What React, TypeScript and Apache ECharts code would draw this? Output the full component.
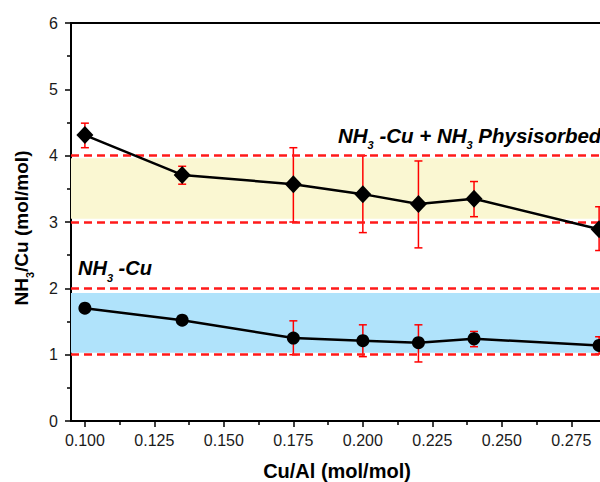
import React, { useEffect, useRef } from "react";
import * as echarts from "echarts";

// ---- data ----
const xValues = [0.1, 0.135, 0.175, 0.2, 0.22, 0.24, 0.285];
const physValues = [4.31, 3.71, 3.57, 3.42, 3.27, 3.35, 2.89];
const physErrLow = [4.12, 3.57, 3.0, 2.84, 2.61, 3.08, 2.57];
const physErrHigh = [4.49, 3.84, 4.12, 4.0, 3.92, 3.61, 3.23];
const cuValues = [1.7, 1.52, 1.25, 1.21, 1.18, 1.24, 1.14];
const cuErrLow = [1.65, 1.47, 1.0, 0.97, 0.89, 1.12, 1.01];
const cuErrHigh = [1.75, 1.57, 1.51, 1.45, 1.45, 1.35, 1.27];
const xTicks = [0.1, 0.125, 0.15, 0.175, 0.2, 0.225, 0.25, 0.275];
const xMinorTicks = [0.1125, 0.1375, 0.1625, 0.1875, 0.2125, 0.2375, 0.2625, 0.2875];
const refLines = [1, 2, 3, 4];
const yellowBand = [3.05, 3.96];
const blueBand = [1.03, 1.93];

const FONT = "Liberation Sans, Arial, sans-serif";

export default function App() {
  const ref = useRef<HTMLDivElement>(null);
  useEffect(() => {
    if (!ref.current) return;
    const chart = echarts.init(ref.current, undefined, { renderer: "svg" });

    const errRender = (params: any, api: any) => {
      const x = api.value(0);
      const lo = api.value(1);
      const hi = api.value(2);
      const p1 = api.coord([x, hi]);
      const p2 = api.coord([x, lo]);
      const w = 4;
      const st = { stroke: "#ff0000", lineWidth: 1.5 };
      return {
        type: "group",
        children: [
          { type: "line", shape: { x1: p1[0], y1: p1[1], x2: p2[0], y2: p2[1] }, style: st },
          { type: "line", shape: { x1: p1[0] - w, y1: p1[1], x2: p1[0] + w, y2: p1[1] }, style: st },
          { type: "line", shape: { x1: p2[0] - w, y1: p2[1], x2: p2[0] + w, y2: p2[1] }, style: st },
        ],
      };
    };

    const richLabel = (size: number) => ({
      b: {
        fontSize: size,
        fontWeight: "bold",
        fontStyle: "italic",
        fontFamily: FONT,
        lineHeight: size + 2,
        verticalAlign: "top",
        fill: "#000",
      },
      s: {
        fontSize: 11,
        fontWeight: "bold",
        fontStyle: "italic",
        fontFamily: FONT,
        lineHeight: 10,
        padding: [size - 3, 0, 0, 0],
        fill: "#000",
      },
    });

    const option: any = {
      animation: false,
      backgroundColor: "#fff",
      grid: {
        left: 71,
        top: 23,
        right: -13,
        bottom: 61,
        containLabel: false,
        outerBoundsMode: "none",
        show: true,
        borderColor: "#000",
        borderWidth: 2,
        backgroundColor: "transparent",
      },
      xAxis: [
        {
          type: "value",
          min: 0.095,
          max: 0.29,
          position: "bottom",
          axisLine: { show: true, lineStyle: { color: "#000", width: 2 } },
          axisTick: { show: true, customValues: xTicks, length: 6, lineStyle: { color: "#000", width: 1.5 } },
          axisLabel: {
            customValues: xTicks,
            formatter: (v: number) => v.toFixed(3),
            fontSize: 16,
            fontFamily: FONT,
            color: "#1a1a1a",
            margin: 11,
          },
          splitLine: { show: false },
        },
        {
          type: "value",
          min: 0.095,
          max: 0.29,
          position: "bottom",
          axisLine: { show: false },
          axisTick: { show: true, customValues: xMinorTicks, length: 4, lineStyle: { color: "#000", width: 1.5 } },
          axisLabel: { show: false },
          splitLine: { show: false },
        },
      ],
      yAxis: {
        type: "value",
        min: 0,
        max: 6,
        interval: 1,
        axisLine: { show: true, lineStyle: { color: "#000", width: 2 } },
        axisTick: { show: true, length: 6, lineStyle: { color: "#000", width: 1.5 } },
        minorTick: { show: true, splitNumber: 2, length: 4, lineStyle: { color: "#000", width: 1.5 } },
        axisLabel: { fontSize: 16, fontFamily: FONT, color: "#1a1a1a", margin: 13 },
        splitLine: { show: false },
      },
      graphic: [
        {
          type: "text",
          x: 22,
          y: 228,
          rotation: Math.PI / 2,
          style: {
            text: "{b|NH}{s|3}{b|/Cu (mol/mol)}",
            align: "center",
            verticalAlign: "middle",
            rich: {
              b: { fontSize: 19, fontWeight: "bold", fontFamily: FONT, lineHeight: 21, verticalAlign: "top", fill: "#000" },
              s: { fontSize: 11, fontWeight: "bold", fontFamily: FONT, lineHeight: 10, padding: [16, 0, 0, 0], fill: "#000" },
            },
          },
        },
        {
          type: "text",
          x: 337,
          y: 471,
          style: {
            text: "Cu/Al (mol/mol)",
            align: "center",
            verticalAlign: "middle",
            fontSize: 20,
            fontWeight: "bold",
            fontFamily: FONT,
            fill: "#000",
          },
        },
        {
          type: "text",
          x: 78,
          y: 258,
          style: {
            text: "{b|NH}{s|3}{b| -Cu}",
            align: "left",
            verticalAlign: "top",
            rich: richLabel(20),
          },
        },
        {
          type: "text",
          x: 338,
          y: 125,
          style: {
            text: "{b|NH}{s|3}{b| -Cu + NH}{s|3}{b| Physisorbed}",
            align: "left",
            verticalAlign: "top",
            rich: richLabel(20.5),
          },
        },
      ],
      series: [
        {
          type: "line",
          data: [],
          silent: true,
          markArea: {
            silent: true,
            itemStyle: { opacity: 1 },
            data: [
              [
                { yAxis: yellowBand[0], itemStyle: { color: "#faf7d2" } },
                { yAxis: yellowBand[1] },
              ],
              [
                { yAxis: blueBand[0], itemStyle: { color: "#b0e3fb" } },
                { yAxis: blueBand[1] },
              ],
            ],
          },
          markLine: {
            silent: true,
            symbol: "none",
            label: { show: false },
            lineStyle: { color: "#ff1a1a", width: 2.5, type: [8, 5] },
            data: refLines.map((v) => ({ yAxis: v })),
          },
        },
        {
          type: "custom",
          renderItem: errRender,
          data: xValues.map((x, i) => [x, physErrLow[i], physErrHigh[i]]),
          z: 3,
        },
        {
          type: "custom",
          renderItem: errRender,
          data: xValues.map((x, i) => [x, cuErrLow[i], cuErrHigh[i]]),
          z: 3,
        },
        {
          type: "line",
          data: xValues.map((x, i) => [x, physValues[i]]),
          symbol: "diamond",
          symbolSize: [17, 18],
          lineStyle: { color: "#000", width: 2.5 },
          itemStyle: { color: "#000" },
          z: 5,
        },
        {
          type: "line",
          data: xValues.map((x, i) => [x, cuValues[i]]),
          symbol: "circle",
          symbolSize: 13,
          lineStyle: { color: "#000", width: 2.5 },
          itemStyle: { color: "#000" },
          z: 5,
        },
      ],
    };
    chart.setOption(option);
    return () => chart.dispose();
  }, []);
  return (
    <div
      ref={ref}
      style={{ position: "fixed", left: 0, top: 0, width: 600, height: 482, background: "#fff" }}
    />
  );
}
